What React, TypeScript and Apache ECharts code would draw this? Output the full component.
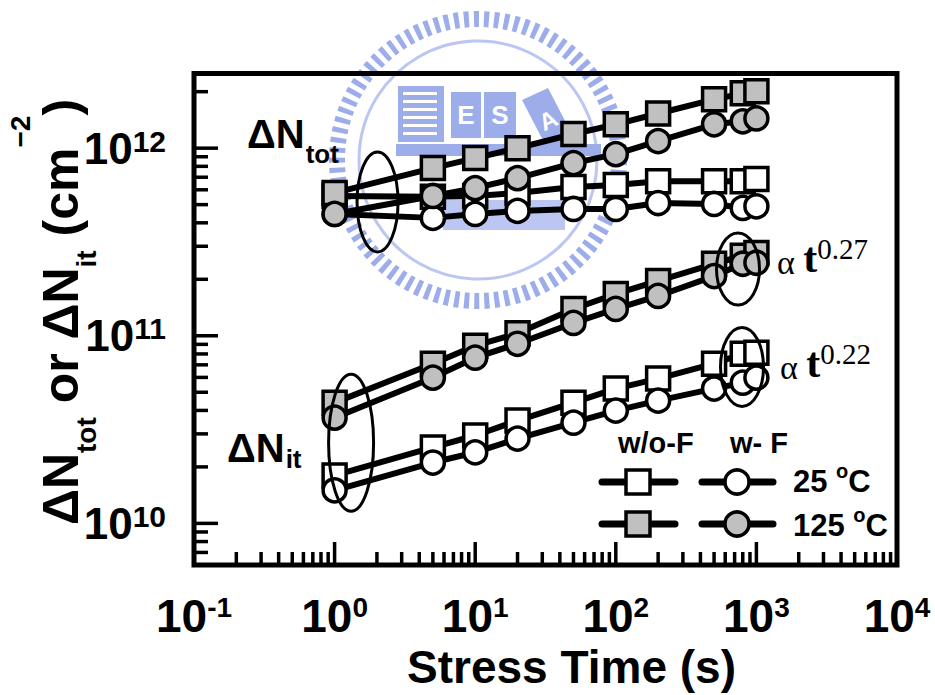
import React, { useEffect, useRef } from "react";
import * as echarts from "echarts";

// ---------- data ----------
const times = [1, 5, 10, 20, 50, 100, 200, 500, 800, 1000];

// ΔN_tot
const totWoF25 = [5.56e11, 5.5e11, 5.56e11, 5.77e11, 6.21e11, 6.36e11, 6.67e11, 6.67e11, 6.67e11, 6.84e11];
const totWF25 = [4.46e11, 4.25e11, 4.46e11, 4.63e11, 4.74e11, 4.74e11, 5.1e11, 5.04e11, 4.8e11, 4.9e11];
const totWoF125 = [5.77e11, 7.83e11, 8.85e11, 1.0e12, 1.19e12, 1.34e12, 1.53e12, 1.82e12, 1.96e12, 2.01e12];
const totWF125 = [4.46e11, 5.56e11, 6.12e11, 6.92e11, 8.32e11, 9.29e11, 1.09e12, 1.34e12, 1.39e12, 1.44e12];

// ΔN_it
const itWoF25 = [1.8e10, 2.54e10, 2.94e10, 3.53e10, 4.4e10, 5.23e10, 5.91e10, 7.1e10, 8.02e10, 8.12e10];
const itWF25 = [1.5e10, 2.11e10, 2.39e10, 2.83e10, 3.44e10, 3.99e10, 4.51e10, 5.23e10, 5.62e10, 5.98e10];
const itWoF125 = [4.4e10, 7.1e10, 8.85e10, 1.03e11, 1.39e11, 1.67e11, 1.96e11, 2.42e11, 2.67e11, 2.76e11];
const itWF125 = [3.66e10, 5.98e10, 7.64e10, 9.06e10, 1.17e11, 1.39e11, 1.63e11, 2.08e11, 2.42e11, 2.45e11];

// axes
const xTickExponents = [-1, 0, 1, 2, 3, 4];
const yTickExponents = [9, 10, 11, 12];
const minorMultipliers = [2, 3, 4, 5, 6, 7, 8, 9];
const xMin = 0.1;
const xMax = 1e4;
const yMin = 6e9;
const yMax = 2.5e12;

// annotation anchors (data coordinates): ellipse centres
const ellipseTot = [2.02, 5.17e11];
const ellipseIt = [1.31, 2.69e10];
const ellipse027 = [740, 2.27e11];
const ellipse022 = [790, 6.82e10];

// legend / label texts
const legendHeaders = ["w/o-F", "w- F"];
const legendTemps = ["25", "125"];
const powerExponents = ["0.27", "0.22"];

const SANS = "'Liberation Sans', Arial, Helvetica, sans-serif";
const SERIF = "'Liberation Serif', 'Times New Roman', serif";
const GRAY = "#c0c0c0";

function expLabel(value: number): string {
  const lg = Math.log10(value);
  const e = Math.round(lg);
  if (Math.abs(lg - e) > 1e-6) return "";
  return `{b|10}{s|${e}}`;
}

function buildTicks() {
  const out: number[][] = [];
  xTickExponents.forEach((e) => {
    const base = Math.pow(10, e);
    if (base > xMin && base < xMax) out.push([base, yMin, 0, 1]);
    minorMultipliers.forEach((k) => {
      const v = k * base;
      if (v > xMin && v < xMax) out.push([v, yMin, 0, 0]);
    });
  });
  yTickExponents.forEach((e) => {
    const base = Math.pow(10, e);
    if (base > yMin && base < yMax) out.push([xMin, base, 1, 1]);
    minorMultipliers.forEach((k) => {
      const v = k * base;
      if (v > yMin * 1.0001 && v < yMax) out.push([xMin, v, 1, 0]);
    });
  });
  return out;
}

function mkSeries(name: string, vals: number[], symbol: string, fill: string) {
  return {
    name,
    type: "line",
    data: times.map((t, i) => [t, vals[i]]),
    symbol,
    symbolSize: 23,
    showSymbol: true,
    showAllSymbol: true,
    lineStyle: { color: "#000", width: 6 },
    itemStyle: { color: fill, borderColor: "#000", borderWidth: 3.5 },
    emphasis: { disabled: true },
    z: 3,
  };
}

export default function App() {
  const ref = useRef<HTMLDivElement>(null);

  useEffect(() => {
    if (!ref.current) return;
    const chart = echarts.init(ref.current, undefined, { renderer: "svg" });

    const labelRich = (big: number, small: number) => ({
      b: { fontSize: big, fontWeight: "bold", fontFamily: SANS, verticalAlign: "top", color: "#000" },
      s: { fontSize: small, fontWeight: "bold", fontFamily: SANS, verticalAlign: "top", color: "#000" },
    });

    const option: any = {
      animation: false,
      backgroundColor: "#fff",
      grid: {
        left: 194,
        right: 38,
        top: 73.5,
        bottom: 130,
        show: true,
        borderColor: "#000",
        borderWidth: 5,
        backgroundColor: "transparent",
      },
      xAxis: {
        type: "log",
        logBase: 10,
        min: xMin,
        max: xMax,
        axisLine: { show: false },
        axisTick: { show: false },
        minorTick: { show: false },
        splitLine: { show: false },
        axisLabel: { margin: 28, color: "#000", formatter: expLabel, rich: labelRich(46, 28) },
        name: "Stress Time (s)",
        nameLocation: "middle",
        nameGap: 79,
        nameTextStyle: {
          fontSize: 46,
          fontWeight: "bold",
          fontFamily: SANS,
          color: "#000",
          lineHeight: 45,
          padding: [0, 0, 0, 52],
        },
      },
      yAxis: {
        type: "log",
        logBase: 10,
        min: yMin,
        max: yMax,
        axisLine: { show: false },
        axisTick: { show: false },
        minorTick: { show: false },
        splitLine: { show: false },
        axisLabel: { margin: 28, color: "#000", formatter: expLabel, rich: labelRich(44, 30) },
      },
      series: [
        {
          type: "custom",
          coordinateSystem: "cartesian2d",
          silent: true,
          clip: false,
          z: 5,
          data: buildTicks(),
          encode: { x: 0, y: 1 },
          renderItem: (params: any, api: any) => {
            const cs = params.coordSys;
            const axis = api.value(2);
            const major = api.value(3) === 1;
            const p = api.coord([api.value(0), api.value(1)]);
            if (axis === 0) {
              const yb = cs.y + cs.height;
              const len = major ? 23 : 13;
              return {
                type: "line",
                shape: { x1: p[0], y1: yb, x2: p[0], y2: yb - len },
                style: { stroke: "#000", lineWidth: 3.5 },
              };
            }
            const len = major ? 24 : 14;
            return {
              type: "line",
              shape: { x1: cs.x, y1: p[1], x2: cs.x + len, y2: p[1] },
              style: { stroke: "#000", lineWidth: 3.5 },
            };
          },
        },
        mkSeries("ΔNtot w/o-F 25°C", totWoF25, "rect", "#fff"),
        mkSeries("ΔNit w/o-F 25°C", itWoF25, "rect", "#fff"),
        mkSeries("ΔNtot w-F 25°C", totWF25, "circle", "#fff"),
        mkSeries("ΔNit w-F 25°C", itWF25, "circle", "#fff"),
        mkSeries("ΔNtot w/o-F 125°C", totWoF125, "rect", GRAY),
        mkSeries("ΔNit w/o-F 125°C", itWoF125, "rect", GRAY),
        mkSeries("ΔNtot w-F 125°C", totWF125, "circle", GRAY),
        mkSeries("ΔNit w-F 125°C", itWF125, "circle", GRAY),
      ],
    };

    chart.setOption(option);

    const toPx = (d: number[]) => chart.convertToPixel({ gridIndex: 0 }, d) as number[];
    const ell = (d: number[], rx: number, ry: number) => {
      const p = toPx(d);
      return {
        type: "ellipse",
        z: 20,
        silent: true,
        shape: { cx: p[0], cy: p[1], rx, ry },
        style: { fill: "none", stroke: "#000", lineWidth: 3 },
      };
    };

    const WM = "#9dade9";
    const WM2 = "#bcc6f2";
    const wmCx = 478;
    const wmCy = 160;
    const watermark: any[] = [
      { type: "circle", z: -10, silent: true, shape: { cx: wmCx, cy: wmCy, r: 141 }, style: { fill: "none", stroke: WM, lineWidth: 16, lineDash: [5, 5] } },
      { type: "circle", z: -10, silent: true, shape: { cx: wmCx, cy: wmCy, r: 119 }, style: { fill: "none", stroke: WM2, lineWidth: 3 } },
      { type: "rect", z: -10, silent: true, shape: { x: 398, y: 86, width: 46, height: 56 }, style: { fill: WM } },
      ...[0, 1, 2, 3, 4, 5].map((i) => ({
        type: "rect", z: -9, silent: true, shape: { x: 403, y: 92 + i * 8, width: 34, height: 3 }, style: { fill: "#fff" },
      })),
      { type: "rect", z: -10, silent: true, shape: { x: 451, y: 92, width: 30, height: 46 }, style: { fill: WM } },
      { type: "text", z: -9, silent: true, style: { text: "E", x: 466, y: 115, align: "center", verticalAlign: "middle", fill: "#fff", font: `bold 26px ${SANS}` } },
      { type: "rect", z: -10, silent: true, shape: { x: 484, y: 92, width: 32, height: 46 }, style: { fill: WM } },
      { type: "text", z: -9, silent: true, style: { text: "S", x: 500, y: 115, align: "center", verticalAlign: "middle", fill: "#fff", font: `bold 26px ${SANS}` } },
      { type: "polygon", z: -10, silent: true, shape: { points: [[522, 100], [548, 88], [575, 140], [548, 150]] }, style: { fill: WM } },
      { type: "text", z: -9, silent: true, x: 548, y: 120, rotation: 0.45, style: { text: "A", x: 0, y: 0, align: "center", verticalAlign: "middle", fill: "#fff", font: `bold 24px ${SANS}` } },
      { type: "rect", z: -10, silent: true, shape: { x: 396, y: 144, width: 205, height: 12 }, style: { fill: WM } },
      { type: "rect", z: -10, silent: true, shape: { x: 443, y: 200, width: 122, height: 30 }, style: { fill: WM2 } },
    ];

    const txt = (x: number, y: number, text: string, font: string) => ({
      type: "text",
      z: 20,
      silent: true,
      style: { text, x, y, font, fill: "#000", align: "left", verticalAlign: "middle" },
    });

    const legendY = [482, 524];
    const legendFills = ["#fff", GRAY];
    const legendEls: any[] = [];
    legendY.forEach((ly, i) => {
      legendEls.push(
        { type: "line", z: 20, silent: true, shape: { x1: 602, y1: ly, x2: 675, y2: ly }, style: { stroke: "#000", lineWidth: 7, lineCap: "round" } },
        { type: "rect", z: 21, silent: true, shape: { x: 626, y: ly - 12, width: 24, height: 24 }, style: { fill: legendFills[i], stroke: "#000", lineWidth: 3.5 } },
        { type: "line", z: 20, silent: true, shape: { x1: 702, y1: ly, x2: 773, y2: ly }, style: { stroke: "#000", lineWidth: 7, lineCap: "round" } },
        { type: "circle", z: 21, silent: true, shape: { cx: 737, cy: ly, r: 12 }, style: { fill: legendFills[i], stroke: "#000", lineWidth: 3.5 } },
        {
          type: "text",
          z: 20,
          silent: true,
          style: {
            text: `{m|${legendTemps[i]} }{o|o}{m|C}`,
            x: 793,
            y: ly - 21.5 + (i === 1 ? 2 : 0),
            align: "left",
            verticalAlign: "top",
            rich: {
              m: { fontSize: 31, fontWeight: "bold", fontFamily: SANS, padding: [5, 0, 0, 0], verticalAlign: "top", color: "#000" },
              o: { fontSize: 20, fontWeight: "bold", fontFamily: SANS, verticalAlign: "top", color: "#000" },
            },
          },
        }
      );
    });

    const powRich = {
      a: { fontFamily: SERIF, fontSize: 34, padding: [11, 0, 0, 0], verticalAlign: "top", color: "#000" },
      t: { fontFamily: SERIF, fontWeight: "bold", fontSize: 42, padding: [3, 0, 0, 0], verticalAlign: "top", color: "#000" },
      s: { fontFamily: SERIF, fontSize: 29, verticalAlign: "top", color: "#000" },
    };

    const graphic: any[] = [
      ...watermark,
      ell(ellipseTot, 20.5, 50),
      ell(ellipseIt, 22.5, 68.5),
      ell(ellipse027, 21.5, 36),
      ell(ellipse022, 21.5, 39.5),
      // ΔN_tot label
      {
        type: "text", z: 20, silent: true,
        style: {
          text: "{m|ΔN}{s|tot}", x: 247, y: 114, align: "left", verticalAlign: "top",
          rich: {
            m: { fontSize: 40, fontWeight: "bold", fontFamily: SANS, verticalAlign: "top", color: "#000" },
            s: { fontSize: 26, fontWeight: "bold", fontFamily: SANS, padding: [27, 0, 0, 1], verticalAlign: "top", color: "#000" },
          },
        },
      },
      // ΔN_it label
      {
        type: "text", z: 20, silent: true,
        style: {
          text: "{m|ΔN}{s|it}", x: 227, y: 428, align: "left", verticalAlign: "top",
          rich: {
            m: { fontSize: 40, fontWeight: "bold", fontFamily: SANS, verticalAlign: "top", color: "#000" },
            s: { fontSize: 26, fontWeight: "bold", fontFamily: SANS, padding: [18, 0, 0, 1], verticalAlign: "top", color: "#000" },
          },
        },
      },
      // power-law labels
      { type: "text", z: 20, silent: true, style: { text: `{a|α }{t|t}{s|${powerExponents[0]}}`, x: 777, y: 234, align: "left", verticalAlign: "top", rich: powRich } },
      { type: "text", z: 20, silent: true, style: { text: `{a|α }{t|t}{s|${powerExponents[1]}}`, x: 780, y: 339, align: "left", verticalAlign: "top", rich: powRich } },
      // legend headers
      txt(618, 443, legendHeaders[0], `bold 29px ${SANS}`),
      txt(730, 443, legendHeaders[1], `bold 29px ${SANS}`),
      ...legendEls,
      // y axis title
      {
        type: "text", z: 20, silent: true, x: 53, y: 312, rotation: Math.PI / 2,
        style: {
          text: "{m|ΔN}{sub|tot}{m| or ΔN}{sub|it}{m| (cm}{sup|−2}{m|)}",
          x: 0, y: 0, align: "center", verticalAlign: "middle",
          rich: {
            m: { fontSize: 50, fontWeight: "bold", fontFamily: SANS, padding: [30, 0, 0, 0], verticalAlign: "top", color: "#000" },
            sub: { fontSize: 28, fontWeight: "bold", fontFamily: SANS, padding: [66, 0, 0, 0], verticalAlign: "top", color: "#000" },
            sup: { fontSize: 28, fontWeight: "bold", fontFamily: SANS, padding: [0, 0, 0, 0], verticalAlign: "top", color: "#000" },
          },
        },
      },
    ];

    chart.setOption({ graphic });

    return () => chart.dispose();
  }, []);

  return <div ref={ref} style={{ width: 935, height: 695, position: "absolute", left: 0, top: 0 }} />;
}
